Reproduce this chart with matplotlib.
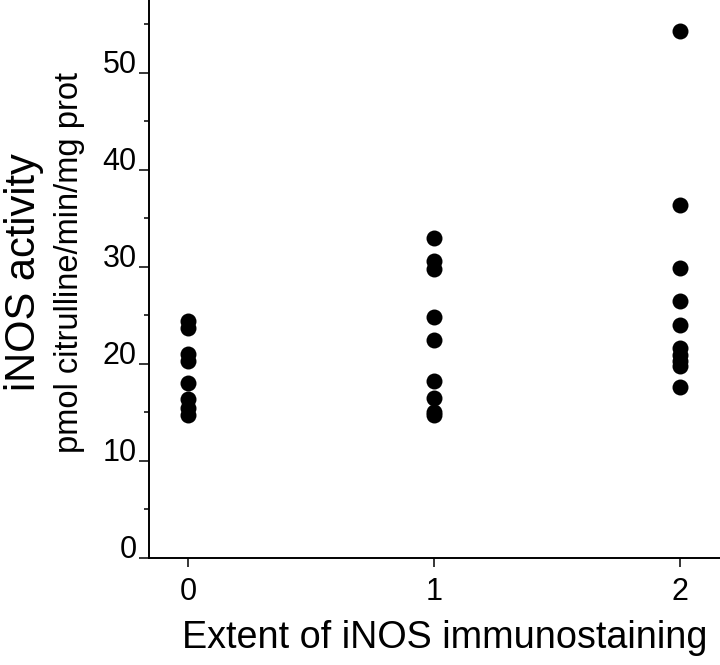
import matplotlib
matplotlib.use('Agg')
import matplotlib.pyplot as plt
from matplotlib.ticker import MultipleLocator

plt.rcParams['font.family'] = ['Liberation Sans', 'DejaVu Sans']

# iNOS activity (pmol citrulline/min/mg prot) per immunostaining score
score0 = [24.4, 23.7, 21.0, 20.3, 18.0, 16.4, 15.5, 14.7]
score1 = [33.0, 30.6, 29.8, 24.8, 22.5, 18.2, 16.5, 15.0, 14.7]
score2 = [54.3, 36.4, 29.9, 26.5, 24.0, 21.6, 20.9, 20.3, 19.8, 17.6]
groups = [score0, score1, score2]
xticks = [0, 1, 2]

fig = plt.figure(figsize=(7.2, 6.65), dpi=100)
ax = fig.add_axes([0.207, 0.161, 0.793, 0.839])

for x, vals in zip(xticks, groups):
	ax.plot([x] * len(vals), vals, 'o', color='black', markersize=11.5, markeredgewidth=0)

ax.set_xlim(-0.159, 2.163)
ax.set_ylim(0, 57.5)
ax.set_xticks(xticks)
ax.set_yticks(range(0, 60, 10))
ax.yaxis.set_minor_locator(MultipleLocator(5))

for side in ['top', 'right']:
	ax.spines[side].set_visible(False)
for side in ['left', 'bottom']:
	ax.spines[side].set_linewidth(1.4)

ax.tick_params(axis='both', which='major', direction='out', length=7, width=1.1, labelsize=22)
ax.tick_params(axis='y', which='major', pad=2)
ax.tick_params(axis='x', which='major', length=6.5, pad=7)
ax.tick_params(axis='y', which='minor', direction='out', length=3.6, width=1.1)
# y tick labels sit on the tick, not centred on it
for lbl in ax.get_yticklabels():
	lbl.set_verticalalignment('baseline')

fig.text(0.033, 0.591, 'iNOS activity', rotation=90, fontsize=30, ha='center', va='center')
fig.text(0.096, 0.606, 'pmol citrulline/min/mg prot', rotation=90, fontsize=23.5, ha='center', va='center')
fig.text(0.617, 0.0256, 'Extent of iNOS immunostaining', fontsize=27.2, ha='center', va='baseline')

fig.savefig('out.png', dpi=100)
